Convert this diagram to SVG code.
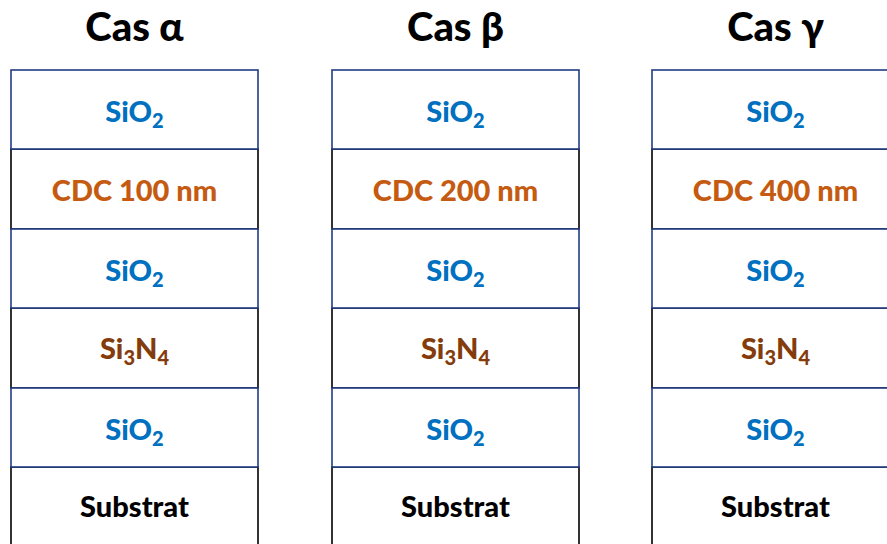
<svg xmlns="http://www.w3.org/2000/svg" width="887" height="544" viewBox="0 0 887 544">
<style>
.t{font-family:Lato,"Open Sans","Liberation Sans",sans-serif;font-weight:900;text-anchor:middle}
.title{font-size:40px;fill:#000}
.lbl{font-size:29px}
.sub{font-size:20px}
.box{fill:#fff;stroke:#000;stroke-width:1.6}
.ox{fill:#fff;stroke:#203C84;stroke-width:1.6}
.sio{fill:#0070C0}
.cdc{fill:#C55A11}
.sin{fill:#843C0C}
.subs{fill:#000}
</style>
<rect width="887" height="544" fill="#fff"/>
<g id="cas-alpha" transform="translate(11,0)">
  <text class="t title" x="123.5" y="41">Cas α</text>
  <g id="a-substrat"><rect class="box" x="0" y="467" width="247" height="100"/><text class="t lbl subs" x="123.5" y="517">Substrat</text></g>
  <g id="a-sin"><rect class="box" x="0" y="308" width="247" height="80"/><text class="t lbl sin" x="123.5" y="359">Si<tspan class="sub" dy="6">3</tspan><tspan dy="-6">N</tspan><tspan class="sub" dy="6">4</tspan></text></g>
  <g id="a-cdc"><rect class="box" x="0" y="149" width="247" height="80"/><text class="t lbl cdc" x="123.5" y="201">CDC 100 nm</text></g>
  <g id="a-sio1"><rect class="ox" x="0" y="70" width="247" height="79"/><text class="t lbl sio" x="123.5" y="122">SiO<tspan class="sub" dy="6">2</tspan></text></g>
  <g id="a-sio2"><rect class="ox" x="0" y="229" width="247" height="79"/><text class="t lbl sio" x="123.5" y="281">SiO<tspan class="sub" dy="6">2</tspan></text></g>
  <g id="a-sio3"><rect class="ox" x="0" y="388" width="247" height="79"/><text class="t lbl sio" x="123.5" y="440">SiO<tspan class="sub" dy="6">2</tspan></text></g>
</g>
<g id="cas-beta" transform="translate(332,0)">
  <text class="t title" x="123.5" y="41">Cas β</text>
  <g id="b-substrat"><rect class="box" x="0" y="467" width="247" height="100"/><text class="t lbl subs" x="123.5" y="517">Substrat</text></g>
  <g id="b-sin"><rect class="box" x="0" y="308" width="247" height="80"/><text class="t lbl sin" x="123.5" y="359">Si<tspan class="sub" dy="6">3</tspan><tspan dy="-6">N</tspan><tspan class="sub" dy="6">4</tspan></text></g>
  <g id="b-cdc"><rect class="box" x="0" y="149" width="247" height="80"/><text class="t lbl cdc" x="123.5" y="201">CDC 200 nm</text></g>
  <g id="b-sio1"><rect class="ox" x="0" y="70" width="247" height="79"/><text class="t lbl sio" x="123.5" y="122">SiO<tspan class="sub" dy="6">2</tspan></text></g>
  <g id="b-sio2"><rect class="ox" x="0" y="229" width="247" height="79"/><text class="t lbl sio" x="123.5" y="281">SiO<tspan class="sub" dy="6">2</tspan></text></g>
  <g id="b-sio3"><rect class="ox" x="0" y="388" width="247" height="79"/><text class="t lbl sio" x="123.5" y="440">SiO<tspan class="sub" dy="6">2</tspan></text></g>
</g>
<g id="cas-gamma" transform="translate(652,0)">
  <text class="t title" x="123.5" y="41">Cas γ</text>
  <g id="c-substrat"><rect class="box" x="0" y="467" width="247" height="100"/><text class="t lbl subs" x="123.5" y="517">Substrat</text></g>
  <g id="c-sin"><rect class="box" x="0" y="308" width="247" height="80"/><text class="t lbl sin" x="123.5" y="359">Si<tspan class="sub" dy="6">3</tspan><tspan dy="-6">N</tspan><tspan class="sub" dy="6">4</tspan></text></g>
  <g id="c-cdc"><rect class="box" x="0" y="149" width="247" height="80"/><text class="t lbl cdc" x="123.5" y="201">CDC 400 nm</text></g>
  <g id="c-sio1"><rect class="ox" x="0" y="70" width="247" height="79"/><text class="t lbl sio" x="123.5" y="122">SiO<tspan class="sub" dy="6">2</tspan></text></g>
  <g id="c-sio2"><rect class="ox" x="0" y="229" width="247" height="79"/><text class="t lbl sio" x="123.5" y="281">SiO<tspan class="sub" dy="6">2</tspan></text></g>
  <g id="c-sio3"><rect class="ox" x="0" y="388" width="247" height="79"/><text class="t lbl sio" x="123.5" y="440">SiO<tspan class="sub" dy="6">2</tspan></text></g>
</g>
</svg>
